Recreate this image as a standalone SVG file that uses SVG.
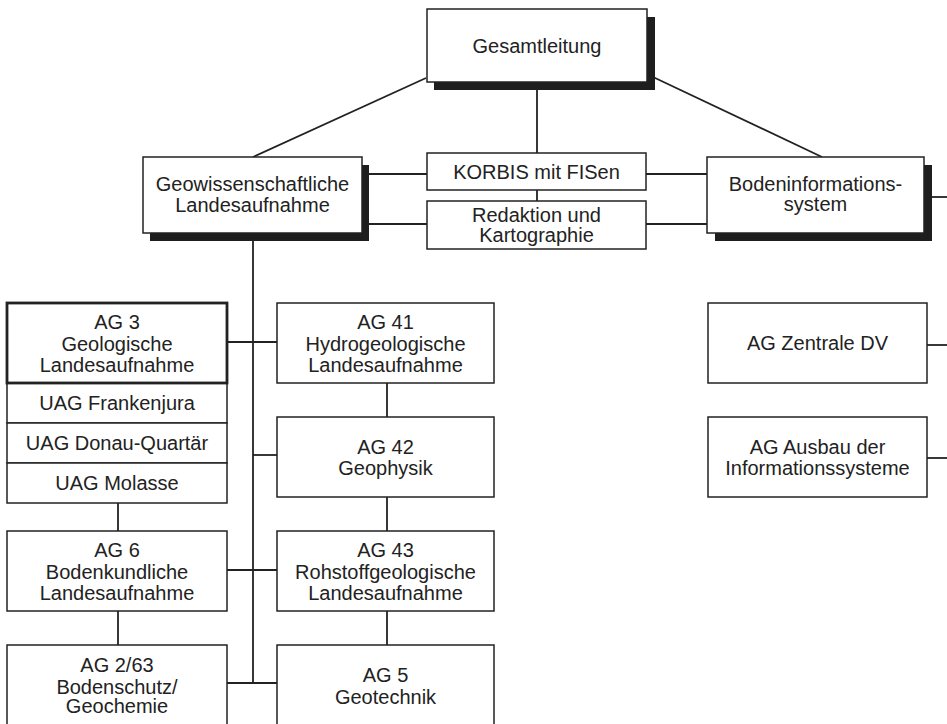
<svg xmlns="http://www.w3.org/2000/svg" width="947" height="724" viewBox="0 0 947 724">
<style>
.bx{fill:#fff;stroke:#222;stroke-width:1.5}
.thick{stroke-width:2.8}
.sh{fill:#1e1e1e}
.t{font-family:"Liberation Sans",Arial,Helvetica,sans-serif;font-size:20px;fill:#222;text-anchor:middle}
.ln{stroke:#222;stroke-width:1.8;fill:none}
</style>
<rect width="947" height="724" fill="#fff"/>
<g id="connectors">
<line class="ln" x1="426" y1="78" x2="253" y2="157"/>
<line class="ln" x1="653" y1="77" x2="822" y2="157"/>
<line class="ln" x1="537" y1="90" x2="537" y2="153"/>
<line class="ln" x1="537" y1="190" x2="537" y2="201"/>
<line class="ln" x1="369" y1="174" x2="427" y2="174"/>
<line class="ln" x1="646" y1="174" x2="707" y2="174"/>
<line class="ln" x1="369" y1="224" x2="427" y2="224"/>
<line class="ln" x1="646" y1="224" x2="707" y2="224"/>
<line class="ln" x1="932" y1="197" x2="947" y2="197"/>
<line class="ln" x1="927" y1="345" x2="947" y2="345"/>
<line class="ln" x1="927" y1="458" x2="947" y2="458"/>
<line class="ln" x1="253" y1="241" x2="253" y2="683"/>
<line class="ln" x1="227" y1="342" x2="277" y2="342"/>
<line class="ln" x1="253" y1="455" x2="277" y2="455"/>
<line class="ln" x1="227" y1="570" x2="277" y2="570"/>
<line class="ln" x1="227" y1="683" x2="277" y2="683"/>
<line class="ln" x1="118" y1="503" x2="118" y2="531"/>
<line class="ln" x1="118" y1="611" x2="118" y2="645"/>
<line class="ln" x1="387" y1="383" x2="387" y2="417"/>
<line class="ln" x1="387" y1="497" x2="387" y2="531"/>
<line class="ln" x1="387" y1="611" x2="387" y2="645"/>
</g>
<g id="gesamtleitung">
<rect class="sh" x="434" y="17" width="221" height="73"/>
<rect class="bx" x="427" y="9" width="220" height="73"/>
<text class="t" x="537" y="52.5">Gesamtleitung</text>
</g>
<g id="geowiss">
<rect class="sh" x="150" y="165" width="219" height="76"/>
<rect class="bx" x="143" y="157" width="219" height="76"/>
<text class="t" x="252.5" y="190.5">Geowissenschaftliche</text>
<text class="t" x="252.5" y="212">Landesaufnahme</text>
</g>
<g id="korbis">
<rect class="bx" x="427" y="153" width="219" height="37"/>
<text class="t" x="536.5" y="178.5">KORBIS mit FISen</text>
</g>
<g id="redaktion">
<rect class="bx" x="427" y="201" width="219" height="48"/>
<text class="t" x="536.5" y="221.5">Redaktion und</text>
<text class="t" x="536.5" y="242">Kartographie</text>
</g>
<g id="bodeninfo">
<rect class="sh" x="715" y="165" width="217" height="76"/>
<rect class="bx" x="707" y="157" width="217" height="76"/>
<text class="t" x="815.5" y="190.5">Bodeninformations-</text>
<text class="t" x="815.5" y="211">system</text>
</g>
<g id="ag3">
<rect class="bx" x="7" y="383" width="220" height="40"/>
<rect class="bx" x="7" y="423" width="220" height="40"/>
<rect class="bx" x="7" y="463" width="220" height="40"/>
<rect class="bx thick" x="7" y="303" width="220" height="80"/>
<text class="t" x="117" y="329">AG 3</text>
<text class="t" x="117" y="350.5">Geologische</text>
<text class="t" x="117" y="372">Landesaufnahme</text>
<text class="t" x="117" y="410">UAG Frankenjura</text>
<text class="t" x="117" y="450">UAG Donau-Quartär</text>
<text class="t" x="117" y="490">UAG Molasse</text>
</g>
<g id="ag6">
<rect class="bx" x="7" y="531" width="220" height="80"/>
<text class="t" x="117" y="557">AG 6</text>
<text class="t" x="117" y="578.5">Bodenkundliche</text>
<text class="t" x="117" y="600">Landesaufnahme</text>
</g>
<g id="ag263">
<rect class="bx" x="7" y="645" width="220" height="82"/>
<text class="t" x="117" y="672">AG 2/63</text>
<text class="t" x="117" y="693.5">Bodenschutz/</text>
<text class="t" x="117" y="713">Geochemie</text>
</g>
<g id="ag41">
<rect class="bx" x="277" y="303" width="217" height="80"/>
<text class="t" x="385.5" y="329">AG 41</text>
<text class="t" x="385.5" y="350.5">Hydrogeologische</text>
<text class="t" x="385.5" y="372">Landesaufnahme</text>
</g>
<g id="ag42">
<rect class="bx" x="277" y="417" width="217" height="80"/>
<text class="t" x="385.5" y="453.5">AG 42</text>
<text class="t" x="385.5" y="475">Geophysik</text>
</g>
<g id="ag43">
<rect class="bx" x="277" y="531" width="217" height="80"/>
<text class="t" x="385.5" y="557">AG 43</text>
<text class="t" x="385.5" y="578.5">Rohstoffgeologische</text>
<text class="t" x="385.5" y="600">Landesaufnahme</text>
</g>
<g id="ag5">
<rect class="bx" x="277" y="645" width="217" height="82"/>
<text class="t" x="385.5" y="682">AG 5</text>
<text class="t" x="385.5" y="703.5">Geotechnik</text>
</g>
<g id="agzentrale">
<rect class="bx" x="708" y="303" width="219" height="80"/>
<text class="t" x="817.5" y="350">AG Zentrale DV</text>
</g>
<g id="agausbau">
<rect class="bx" x="708" y="417" width="219" height="80"/>
<text class="t" x="817.5" y="453.5">AG Ausbau der</text>
<text class="t" x="817.5" y="475">Informationssysteme</text>
</g>
</svg>
